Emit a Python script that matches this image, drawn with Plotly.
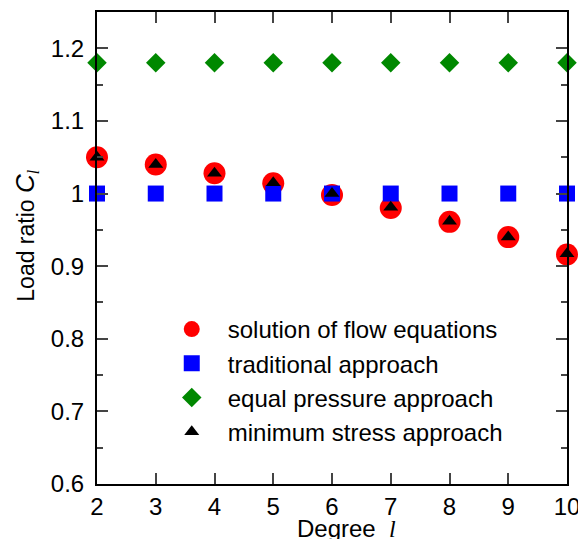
import plotly.graph_objects as go

degrees = [2, 3, 4, 5, 6, 7, 8, 9, 10]
flow_solution = [1.050, 1.040, 1.028, 1.014, 0.998, 0.980, 0.961, 0.940, 0.916]
traditional = [1.0, 1.0, 1.0, 1.0, 1.0, 1.0, 1.0, 1.0, 1.0]
equal_pressure = [1.18, 1.18, 1.18, 1.18, 1.18, 1.18, 1.18, 1.18, 1.18]
minimum_stress = [1.050, 1.040, 1.028, 1.015, 1.000, 0.981, 0.962, 0.940, 0.917]

FONT = "Liberation Sans, Arial, Helvetica, sans-serif"
SERIF = "Liberation Serif, DejaVu Serif, serif"

fig = go.Figure()
fig.add_trace(go.Scatter(x=degrees, y=flow_solution, mode="markers",
                         name="solution of flow equations", cliponaxis=False,
                         marker=dict(symbol="circle", size=22, color="#ff0000")))
fig.add_trace(go.Scatter(x=degrees, y=traditional, mode="markers",
                         name="traditional approach", cliponaxis=False,
                         marker=dict(symbol="square", size=16, color="#0000ff")))
fig.add_trace(go.Scatter(x=degrees, y=equal_pressure, mode="markers",
                         name="equal pressure approach", cliponaxis=False,
                         marker=dict(symbol="diamond", size=15, color="#008800")))
fig.add_trace(go.Scatter(x=degrees, y=minimum_stress, mode="markers",
                         name="minimum stress approach", cliponaxis=False,
                         marker=dict(symbol="triangle-up", size=13, color="#000000")))

y_title = ("Load ratio <span style='font-size:26px'><i>C</i></span>"
           "<sub><span style='font-family:Liberation Serif, serif'><i>l</i></span></sub>")
x_title = "Degree  <span style='font-family:Liberation Serif, serif'><i>l</i></span>"

# page body has an 8px margin, so the figure is sized to fit the 586x539 window
fig.update_layout(
    width=578, height=531,
    margin=dict(l=89, r=19, t=4, b=55),
    paper_bgcolor="white", plot_bgcolor="white",
    font=dict(family=FONT, size=24, color="black"),
    showlegend=True,
    legend=dict(x=0.125, y=0.375, xanchor="left", yanchor="top",
                bgcolor="rgba(0,0,0,0)", itemwidth=62,
                font=dict(family=FONT, size=24)),
    annotations=[
        dict(text=y_title,
             xref="paper", yref="paper", x=-0.15, y=0.525,
             xanchor="center", yanchor="middle", textangle=-90, showarrow=False,
             font=dict(family=FONT, size=23, color="black")),
        dict(text=x_title,
             xref="paper", yref="paper", x=0.53, y=-0.127,
             xanchor="center", yanchor="bottom", showarrow=False,
             font=dict(family=FONT, size=24, color="black")),
    ],
)
fig.update_xaxes(
    range=[2, 10], tickmode="linear", tick0=2, dtick=1, automargin=False,
    showline=True, linecolor="black", linewidth=2, mirror="ticks",
    ticks="inside", ticklen=11, tickwidth=1.5, tickcolor="#444",
    showgrid=False, zeroline=False,
    tickfont=dict(family=FONT, size=24),
)
fig.update_yaxes(
    range=[0.6, 1.25], tickmode="linear", tick0=0.6, dtick=0.1, automargin=False,
    showline=True, linecolor="black", linewidth=2, mirror="ticks",
    ticks="inside", ticklen=11, tickwidth=1.5, tickcolor="#444",
    minor=dict(ticks="inside", ticklen=6, tickwidth=1.5, tickcolor="#444", dtick=0.05, tick0=0.6),
    showgrid=False, zeroline=False,
    tickfont=dict(family=FONT, size=24), ticklabelstandoff=6,
)

fig.write_html("out.html")
